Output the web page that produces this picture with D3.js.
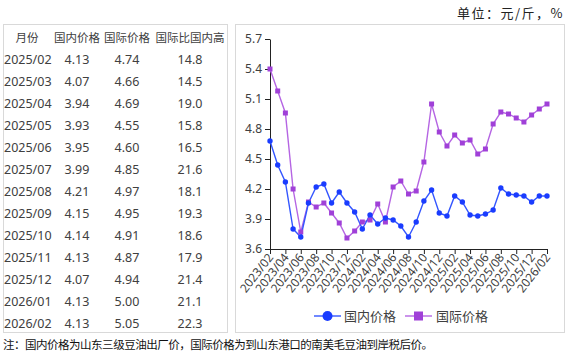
<!DOCTYPE html>
<html><head><meta charset="utf-8">
<script src="https://cdn.jsdelivr.net/npm/d3@7"></script>
<style>
html,body{margin:0;padding:0;background:#fff;}
svg{display:block;font-family:"Noto Sans","Noto Sans CJK SC",sans-serif;}
</style></head>
<body><svg id="c" width="569" height="360"></svg>
<script>
// ---- table data ----
const tableHeaders = ["月份", "国内价格", "国际价格", "国际比国内高"];
const tableMonths = ["2025/02","2025/03","2025/04","2025/05","2025/06","2025/07","2025/08","2025/09","2025/10","2025/11","2025/12","2026/01","2026/02"];
const tableDomestic = ["4.13","4.07","3.94","3.93","3.95","3.99","4.21","4.15","4.14","4.13","4.07","4.13","4.13"];
const tableIntl = ["4.74","4.66","4.69","4.55","4.60","4.85","4.97","4.95","4.91","4.87","4.94","5.00","5.05"];
const tablePremium = ["14.8","14.5","19.0","15.8","16.5","21.6","18.1","19.3","18.6","17.9","21.4","21.1","22.3"];

// ---- chart data ----
const months = ["2023/02","2023/03","2023/04","2023/05","2023/06","2023/07","2023/08","2023/09","2023/10","2023/11","2023/12",
  "2024/01","2024/02","2024/03","2024/04","2024/05","2024/06","2024/07","2024/08","2024/09","2024/10","2024/11","2024/12",
  "2025/01","2025/02","2025/03","2025/04","2025/05","2025/06","2025/07","2025/08","2025/09","2025/10","2025/11","2025/12",
  "2026/01","2026/02"];
const domestic = [4.68,4.44,4.27,3.80,3.72,4.06,4.22,4.25,4.06,4.17,4.06,
  3.97,3.80,3.94,3.85,3.91,3.89,3.83,3.72,3.87,4.08,4.19,3.96,
  3.93,4.13,4.07,3.94,3.93,3.95,3.99,4.21,4.15,4.14,4.13,4.07,
  4.13,4.13];
const international = [5.40,5.18,4.96,4.20,3.77,4.07,4.02,4.06,3.96,3.86,3.71,
  3.78,3.87,3.89,4.05,3.87,4.22,4.28,4.15,4.18,4.47,5.05,4.77,
  4.63,4.74,4.66,4.69,4.55,4.60,4.85,4.97,4.95,4.91,4.87,4.94,
  5.00,5.05];
const yTicks = [3.6,3.9,4.2,4.5,4.8,5.1,5.4,5.7];
const xTickLabels = months.filter((m,i)=>i%2===0);
const seriesNames = ["国内价格","国际价格"];
const unitText = "单位：元/斤，%";
const noteText = "注：国内价格为山东三级豆油出厂价，国际价格为到山东港口的南美毛豆油到岸税后价。";

const svg = d3.select("#c");
const txtColor = "#404040";
const blueLine = "#3355ff", blueDot = "#1a3cff";
const purpLine = "#b565e3", purpDot = "#a040d8";

// unit label
svg.append("text").attr("x",564).attr("y",18).attr("text-anchor","end")
  .attr("font-size",13).attr("letter-spacing",1.5).attr("fill","#222")
  .attr("font-family","'Noto Sans CJK SC'").text(unitText);

// boxes
svg.append("rect").attr("x",3.5).attr("y",24.5).attr("width",224).attr("height",308).attr("fill","none").attr("stroke","#d9d9d9");
svg.append("rect").attr("x",235.5).attr("y",24.5).attr("width",329).attr("height",308).attr("fill","none").attr("stroke","#d9d9d9");

// table
const colX = [27,77,127,190];
const headG = svg.append("g").attr("font-family","'Noto Sans CJK SC'").attr("font-size",11.5).attr("fill",txtColor);
tableHeaders.forEach((h,i)=>{
  headG.append("text").attr("x",colX[i]).attr("y",41.5).attr("text-anchor","middle").text(h);
});
const rowY = d3.scalePoint().domain(tableMonths).range([59,323]);
const bodyG = svg.append("g").attr("font-size",12.5).attr("fill",txtColor);
tableMonths.forEach((m,i)=>{
  const y = rowY(m)+4.5;
  bodyG.append("text").attr("x",4).attr("y",y).text(m);
  bodyG.append("text").attr("x",colX[1]).attr("y",y).attr("text-anchor","middle").text(tableDomestic[i]);
  bodyG.append("text").attr("x",colX[2]).attr("y",y).attr("text-anchor","middle").text(tableIntl[i]);
  bodyG.append("text").attr("x",colX[3]).attr("y",y).attr("text-anchor","middle").text(tablePremium[i]);
});

// chart scales
const x = d3.scalePoint().domain(months).range([270,547]);
const y = d3.scaleLinear().domain([3.6,5.7]).range([249,39]);

const yAxis = svg.append("g").attr("transform","translate(270,0)")
  .call(d3.axisLeft(y).tickValues(yTicks).tickFormat(d3.format(".1f")).tickSize(5).tickSizeOuter(0));
yAxis.selectAll("text").attr("font-size",12).attr("fill",txtColor).attr("font-family","'Noto Sans'");
yAxis.selectAll("line,path").attr("stroke","#222");

const xAxis = svg.append("g").attr("transform","translate(0,249)")
  .call(d3.axisBottom(x).tickValues(xTickLabels).tickSize(5).tickSizeOuter(0));
xAxis.selectAll("line,path").attr("stroke","#222");
xAxis.selectAll("text").attr("font-size",12).attr("fill",txtColor).attr("font-family","'Noto Sans'")
  .attr("text-anchor","end").attr("dy",null).attr("y",0).attr("x",0)
  .attr("transform","translate(3.5,8.5) rotate(-52)");

// lines
const lineGen = d3.line().x((d,i)=>x(months[i])).y(d=>y(d));
svg.append("path").datum(international).attr("d",lineGen).attr("fill","none").attr("stroke",purpLine).attr("stroke-width",1.4);
svg.append("path").datum(domestic).attr("d",lineGen).attr("fill","none").attr("stroke",blueLine).attr("stroke-width",1.4);

svg.append("g").selectAll("rect").data(international).join("rect")
  .attr("x",(d,i)=>x(months[i])-2.5).attr("y",d=>y(d)-2.5).attr("width",5).attr("height",5).attr("fill",purpDot);
svg.append("g").selectAll("circle").data(domestic).join("circle")
  .attr("cx",(d,i)=>x(months[i])).attr("cy",d=>y(d)).attr("r",2.7).attr("fill",blueDot);

// legend
const lg = svg.append("g").attr("font-family","'Noto Sans CJK SC'").attr("font-size",13).attr("fill",txtColor);
lg.append("line").attr("x1",314).attr("x2",341).attr("y1",316).attr("y2",316).attr("stroke",blueLine).attr("stroke-width",1.4);
lg.append("circle").attr("cx",327.5).attr("cy",316).attr("r",5).attr("fill",blueDot);
lg.append("text").attr("x",344).attr("y",320.5).text(seriesNames[0]);
lg.append("line").attr("x1",405).attr("x2",432).attr("y1",316).attr("y2",316).attr("stroke",purpLine).attr("stroke-width",1.4);
lg.append("rect").attr("x",414).attr("y",311.5).attr("width",9).attr("height",9).attr("fill",purpDot);
lg.append("text").attr("x",436).attr("y",320.5).text(seriesNames[1]);

// footnote
svg.append("text").attr("x",3).attr("y",349).attr("font-size",11.5).attr("fill","#111")
  .attr("font-family","'Noto Sans CJK SC'").attr("textLength",430).attr("lengthAdjust","spacing").text(noteText);
</script></body></html>
